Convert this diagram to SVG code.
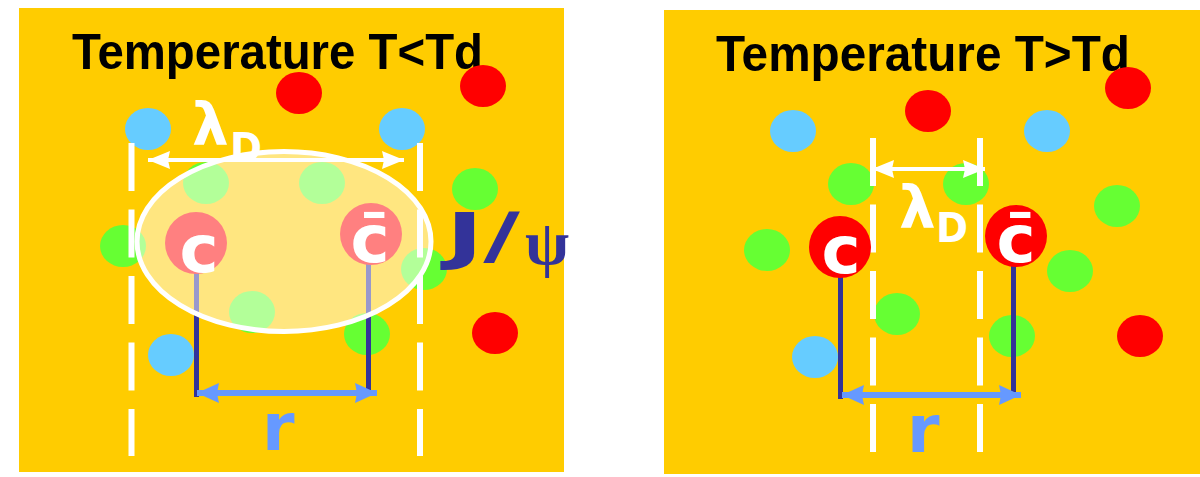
<svg xmlns="http://www.w3.org/2000/svg" width="1200" height="477" viewBox="0 0 1200 477">
<defs>
<style>
.bg{fill:#FFCC00}
.red{fill:#FF0000}
.blue{fill:#66CCFF}
.green{fill:#66FF33}
.title{font-family:"Liberation Sans",Arial,sans-serif;font-weight:bold;font-size:50px;fill:#000}
.dash{stroke:#fff;stroke-width:6;stroke-dasharray:48 18.5;fill:none}
.stick{stroke:#333399;stroke-width:5;fill:none}
.q{font-family:"DejaVu Sans",Verdana,sans-serif;font-weight:bold;font-size:66px;fill:#fff;text-anchor:middle}
.lam{font-family:"DejaVu Sans",sans-serif;font-weight:bold;font-size:58px;fill:#fff}
.sub{font-family:"DejaVu Sans",sans-serif;font-weight:bold;font-size:40px;fill:#fff}
.wline{stroke:#fff;stroke-width:4;fill:none;marker-start:url(#wh);marker-end:url(#wh)}
.rline{stroke:#6699FF;stroke-width:6;fill:none;marker-start:url(#bh);marker-end:url(#bh)}
.r{font-family:"DejaVu Sans",Verdana,sans-serif;font-weight:bold;font-size:66px;fill:#6699FF}
</style>
<marker id="wh" markerUnits="userSpaceOnUse" markerWidth="24" markerHeight="20" viewBox="0 0 24 20" refX="22" refY="10" orient="auto-start-reverse"><path d="M0,1 L22,10 L0,19 L2,10 z" fill="#fff"/></marker>
<marker id="bh" markerUnits="userSpaceOnUse" markerWidth="24" markerHeight="22" viewBox="0 0 24 22" refX="22" refY="11" orient="auto-start-reverse"><path d="M0,1 L22,11 L0,21 L2,11 z" fill="#6699FF"/></marker>
</defs>

<g id="panel-left">
<rect class="bg" x="19" y="8" width="545" height="464"/>
<text class="title" x="72" y="69" textLength="411" lengthAdjust="spacingAndGlyphs">Temperature T&lt;Td</text>
<g id="particles-left">
<ellipse class="red" cx="299" cy="93" rx="23" ry="21"/>
<ellipse class="red" cx="483" cy="86" rx="23" ry="21"/>
<ellipse class="blue" cx="148" cy="129" rx="23" ry="21"/>
<ellipse class="blue" cx="402" cy="129" rx="23" ry="21"/>
<ellipse class="green" cx="206" cy="183" rx="23" ry="21"/>
<ellipse class="green" cx="322" cy="183" rx="23" ry="21"/>
<ellipse class="green" cx="475" cy="189" rx="23" ry="21"/>
<ellipse class="green" cx="123" cy="246" rx="23" ry="21"/>
<ellipse class="green" cx="424" cy="269" rx="23" ry="21"/>
<ellipse class="green" cx="252" cy="312" rx="23" ry="21"/>
<ellipse class="green" cx="367" cy="334" rx="23" ry="21"/>
<ellipse class="red" cx="495" cy="333" rx="23" ry="21"/>
<ellipse class="blue" cx="171" cy="355" rx="23" ry="21"/>
</g>
<line class="dash" x1="131.5" y1="143" x2="131.5" y2="456"/>
<line class="dash" x1="420" y1="143" x2="420" y2="456"/>
<line class="stick" x1="196.5" y1="272" x2="196.5" y2="397"/>
<line class="stick" x1="368.5" y1="262" x2="368.5" y2="390"/>
<g id="c-left">
<circle class="red" cx="196" cy="243" r="31"/>
<text class="q" x="199" y="272">c</text>
</g>
<g id="cbar-left">
<circle class="red" cx="371" cy="234" r="31"/>
<text class="q" x="370" y="262">c̄</text>
</g>
<g id="jpsi">
<ellipse cx="284" cy="241.5" rx="147" ry="90" fill="#fff" fill-opacity="0.5" stroke="#fff" stroke-width="5"/>
<text x="446" y="257" font-family="DejaVu Sans, Verdana, sans-serif" font-weight="bold" font-size="62" fill="#333399" textLength="74" lengthAdjust="spacingAndGlyphs">J/</text>
<text x="525" y="264" font-family="Liberation Serif, serif" font-weight="bold" font-size="64" fill="#333399">ψ</text>
</g>
<text class="lam" x="192" y="145">λ</text>
<text class="sub" x="230" y="162" textLength="32" lengthAdjust="spacingAndGlyphs">D</text>
<line class="wline" x1="148" y1="160" x2="404" y2="160"/>
<line class="rline" x1="197" y1="393" x2="377" y2="393"/>
<text class="r" x="262" y="450">r</text>
</g>

<g id="panel-right">
<rect class="bg" x="664" y="10" width="536" height="464"/>
<text class="title" x="716" y="71" textLength="414" lengthAdjust="spacingAndGlyphs">Temperature T&gt;Td</text>
<g id="particles-right">
<ellipse class="red" cx="928" cy="111" rx="23" ry="21"/>
<ellipse class="red" cx="1128" cy="88" rx="23" ry="21"/>
<ellipse class="blue" cx="793" cy="131" rx="23" ry="21"/>
<ellipse class="blue" cx="1047" cy="131" rx="23" ry="21"/>
<ellipse class="green" cx="851" cy="184" rx="23" ry="21"/>
<ellipse class="green" cx="966" cy="184" rx="23" ry="21"/>
<ellipse class="green" cx="1117" cy="206" rx="23" ry="21"/>
<ellipse class="green" cx="767" cy="250" rx="23" ry="21"/>
<ellipse class="green" cx="1070" cy="271" rx="23" ry="21"/>
<ellipse class="green" cx="897" cy="314" rx="23" ry="21"/>
<ellipse class="green" cx="1012" cy="336" rx="23" ry="21"/>
<ellipse class="red" cx="1140" cy="336" rx="23" ry="21"/>
<ellipse class="blue" cx="815" cy="357" rx="23" ry="21"/>
</g>
<line class="dash" x1="873" y1="138" x2="873" y2="452"/>
<line class="dash" x1="980" y1="138" x2="980" y2="452"/>
<line class="stick" x1="840.5" y1="275" x2="840.5" y2="399"/>
<line class="stick" x1="1013.5" y1="265" x2="1013.5" y2="392"/>
<g id="c-right">
<circle class="red" cx="840" cy="247" r="31"/>
<text class="q" x="841" y="273">c</text>
</g>
<g id="cbar-right">
<circle class="red" cx="1016" cy="236" r="31"/>
<text class="q" x="1016" y="262">c̄</text>
</g>
<line class="wline" x1="872" y1="169" x2="985" y2="169"/>
<text class="lam" x="899" y="228">λ</text>
<text class="sub" x="936" y="242" textLength="32" lengthAdjust="spacingAndGlyphs">D</text>
<line class="rline" x1="842" y1="395" x2="1021" y2="395"/>
<text class="r" x="907" y="452">r</text>
</g>
</svg>
